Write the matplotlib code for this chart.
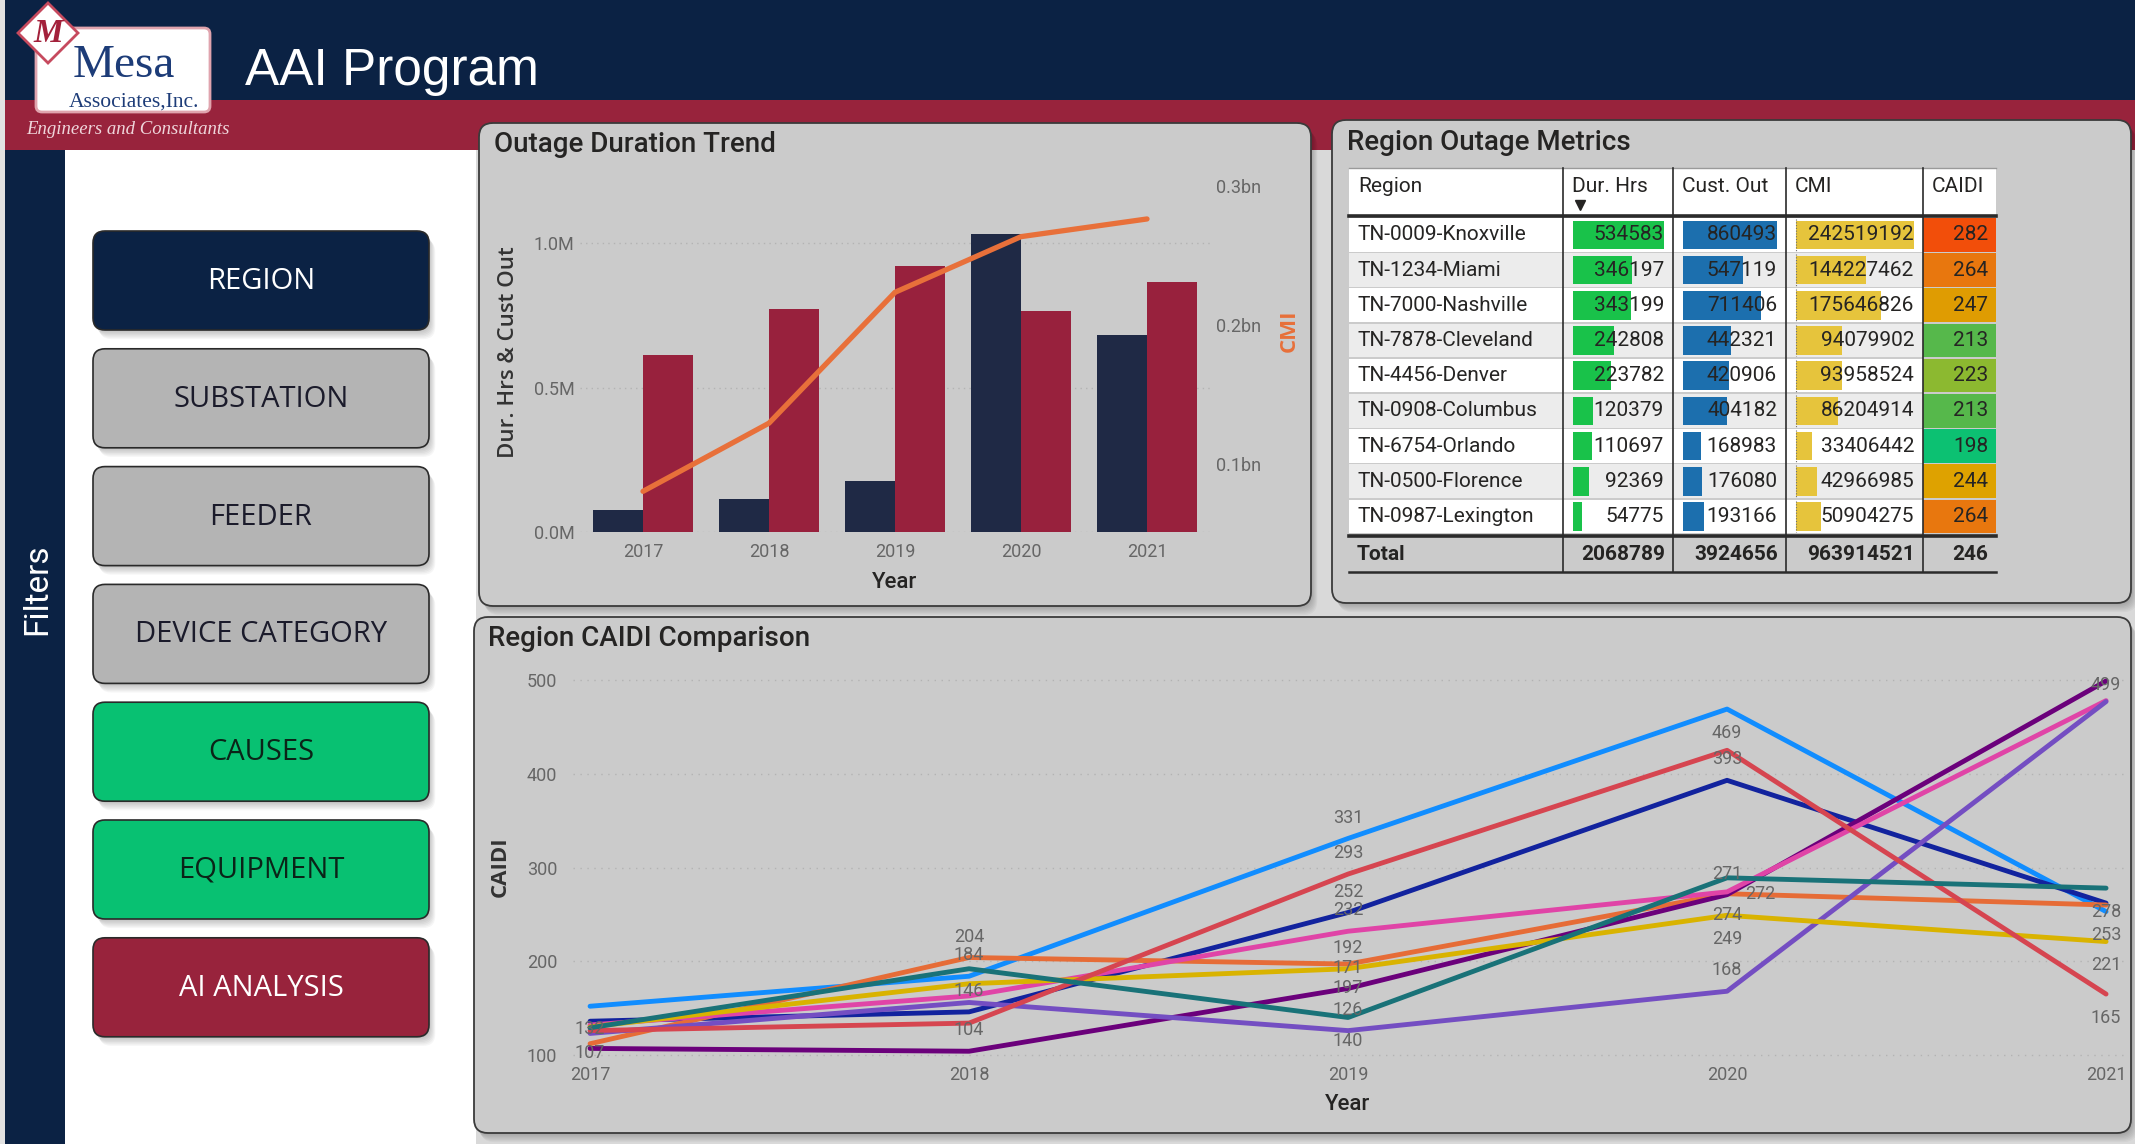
import numpy as np
import matplotlib
matplotlib.use('Agg')
import matplotlib.pyplot as plt
from matplotlib.patches import FancyBboxPatch, Rectangle, Polygon
from matplotlib.colors import LinearSegmentedColormap, Normalize
from matplotlib.ticker import FuncFormatter

# ---- data ----
YEARS = [2017, 2018, 2019, 2020, 2021]
DUR_HRS_BY_YEAR = [75e3, 112e3, 177e3, 1031e3, 682e3]
CUST_OUT_BY_YEAR = [613e3, 771e3, 923e3, 765e3, 865e3]
CMI_BY_YEAR = [80.4e6, 129.4e6, 223.4e6, 263.4e6, 276.1e6]

REGIONS = ['TN-0009-Knoxville', 'TN-1234-Miami', 'TN-7000-Nashville', 'TN-7878-Cleveland',
           'TN-4456-Denver', 'TN-0908-Columbus', 'TN-6754-Orlando', 'TN-0500-Florence',
           'TN-0987-Lexington']
DUR_HRS = [534583, 346197, 343199, 242808, 223782, 120379, 110697, 92369, 54775]
CUST_OUT = [860493, 547119, 711406, 442321, 420906, 404182, 168983, 176080, 193166]
CMI = [242519192, 144227462, 175646826, 94079902, 93958524, 86204914, 33406442, 42966985, 50904275]
CAIDI = [282, 264, 247, 213, 223, 213, 198, 244, 264]
TABLE_HEADERS = ['Region', 'Dur. Hrs', 'Cust. Out', 'CMI', 'CAIDI']
TOTALS = ['Total', '2068789', '3924656', '963914521', '246']

# CAIDI per year, one line per region (legend hidden in the report)
CAIDI_LINES = [
    [152, 184, 331, 469, 253],
    [136, 146, 252, 393, 262],
    [112, 204, 197, 272, 260],
    [107, 104, 171, 271, 499],
    [132, 163, 232, 274, 478],
    [123, 156, 126, 168, 477],
    [130, 176, 192, 249, 221],
    [126, 134, 293, 425, 165],
    [129, 192, 140, 289, 278],
]
# (line, year index, placement) of the data labels that Power BI shows
LINE_LABELS = [
    (4, 0, 'on'), (3, 0, 'on'),
    (2, 1, 'above'), (0, 1, 'above'), (1, 1, 'above'), (3, 1, 'above'),
    (0, 2, 'above'), (7, 2, 'above'), (1, 2, 'above'), (4, 2, 'above'), (6, 2, 'above'),
    (3, 2, 'above'), (2, 2, 'below'), (5, 2, 'above'), (8, 2, 'below'),
    (0, 3, 'below'), (1, 3, 'above'), (3, 3, 'above'), (2, 3, 'right'), (4, 3, 'below'),
    (6, 3, 'below'), (5, 3, 'above'),
    (3, 4, 'on'), (8, 4, 'below'), (0, 4, 'below'), (6, 4, 'below'), (7, 4, 'below'),
]

BUTTONS = ['REGION', 'SUBSTATION', 'FEEDER', 'DEVICE CATEGORY', 'CAUSES', 'EQUIPMENT', 'AI ANALYSIS']

# ---- style ----
NAVY = '#0b2244'
MAROON = '#98233c'
PANEL = '#cbcbcb'
TXT = '#252423'
TICK = '#666666'
LINE_COLORS = ['#118DFF', '#12239E', '#E66C37', '#6B007B', '#E044A7',
               '#744EC2', '#D9B300', '#D64550', '#197278']
BUTTON_STYLE = [(NAVY, 'white'), ('#b4b4b4', '#1b1b2b'), ('#b4b4b4', '#1b1b2b'),
                ('#b4b4b4', '#1b1b2b'), ('#08c172', '#0b2418'), ('#08c172', '#0b2418'),
                (MAROON, 'white')]

plt.rcParams['font.family'] = ['Roboto', 'DejaVu Sans']

W, H = 2135, 1144
fig = plt.figure(figsize=(W / 100, H / 100), dpi=100)
fig.patch.set_facecolor('#d9d9d9')
bg = fig.add_axes([0, 0, 1, 1])
bg.set_xlim(0, W)
bg.set_ylim(H, 0)
bg.axis('off')


def px_rect(x0, y0, x1, y1):
    return [x0 / W, 1 - y1 / H, (x1 - x0) / W, (y1 - y0) / H]


def card(x0, y0, x1, y1, fc, ec='#3a3a3a', lw=1.3, r=14, shadow=True, z=2):
    style = f'round,pad=0,rounding_size={r}'
    if shadow:
        for i in range(1, 8):
            bg.add_patch(FancyBboxPatch((x0 + i * 0.9, y0 + i * 1.3), x1 - x0, y1 - y0,
                                        boxstyle=style, fc='black', ec='none',
                                        alpha=0.035, zorder=z))
    bg.add_patch(FancyBboxPatch((x0, y0), x1 - x0, y1 - y0, boxstyle=style,
                                fc=fc, ec=ec, lw=lw, zorder=z + 0.1))


# ---- page frame ----
bg.add_patch(Rectangle((0, 0), W, H, fc='#e2e2e2', ec='none', zorder=0))
bg.add_patch(Rectangle((5, 0), W, 100, fc=NAVY, ec='none', zorder=1))
bg.add_patch(Rectangle((5, 100), W, 50, fc=MAROON, ec='none', zorder=1))
bg.add_patch(Rectangle((5, 150), 60, H, fc=NAVY, ec='none', zorder=1))
bg.add_patch(Rectangle((65, 150), 411, H, fc='white', ec='none', zorder=1))
bg.add_patch(Rectangle((476, 150), W, H, fc='#d9d9d9', ec='none', zorder=1))
bg.text(37, 589, 'Filters', rotation=90, ha='center', va='center', color='white',
        fontsize=24, zorder=3)

# logo
bg.add_patch(FancyBboxPatch((36, 28), 174, 84, boxstyle='round,pad=0,rounding_size=6',
                            fc='white', ec='#e0a4ae', lw=2, zorder=3))
bg.add_patch(Polygon([(48, 3), (78, 33), (48, 63), (18, 33)], closed=True,
                     fc='white', ec='#c64a5e', lw=2, zorder=4))
bg.text(48, 34, 'M', ha='center', va='center', color='#a3213b', fontsize=24,
        family='Liberation Serif', style='italic', weight='bold', zorder=5)
bg.text(73, 77, 'Mesa', ha='left', va='baseline', color='#1d3c78', fontsize=34,
        family='Liberation Serif', zorder=5)
bg.text(69, 107, 'Associates,Inc.', ha='left', va='baseline', color='#1d3c78', fontsize=15.5,
        family='Liberation Serif', zorder=5)
bg.text(26, 129, 'Engineers and Consultants', ha='left', va='center', color='#efd6db',
        fontsize=13.5, family='Liberation Serif', style='italic', zorder=5)
bg.text(245, 85, 'AAI Program', ha='left', va='baseline', color='white', fontsize=37,
        family='Liberation Sans', zorder=5)

# ---- filter buttons ----
btn_top, btn_h, btn_step = 231, 99, 117.8
for i, (name, (fc, tc)) in enumerate(zip(BUTTONS, BUTTON_STYLE)):
    y0 = btn_top + i * btn_step
    card(93, y0, 429, y0 + btn_h, fc, ec='#2a2a2a', lw=1.2, r=12)
    bg.text(261, y0 + btn_h / 2 + 1, name, ha='center', va='center', color=tc,
            fontsize=21, family='Open Sans', zorder=4)

# ---- panels ----
card(479, 123, 1311, 606, PANEL)
card(1332, 120, 2131, 603, PANEL)
card(474, 617, 2131, 1133, PANEL)
for tx, ty, title in [(494, 145, 'Outage Duration Trend'), (1347, 142, 'Region Outage Metrics'),
                      (488, 639, 'Region CAIDI Comparison')]:
    bg.text(tx, ty, title, ha='left', va='center', color=TXT, fontsize=20, weight='medium', zorder=4)

# ---- outage duration trend ----
ax = fig.add_axes(px_rect(580, 185.7, 1210, 531.7))
ax.patch.set_alpha(0)
x = np.arange(len(YEARS))
ax.bar(x - 0.2, DUR_HRS_BY_YEAR, 0.4, color='#1f2945', zorder=3)
ax.bar(x + 0.2, CUST_OUT_BY_YEAR, 0.4, color='#98213d', zorder=3)
ax.set_xlim(-0.5, 4.5)
ax.set_ylim(0, 1.2e6)
ax.set_xticks(x, [str(y) for y in YEARS])
ax.set_yticks([0, 0.5e6, 1e6])
ax.yaxis.set_major_formatter(FuncFormatter(lambda v, p: f'{v / 1e6:.1f}M'))
ax.grid(axis='y', linestyle=(0, (1, 3)), color='#b3b3b3', lw=1)
ax.set_axisbelow(True)
for s in ax.spines.values():
    s.set_visible(False)
ax.tick_params(length=0, labelsize=13, colors=TICK)
ax.tick_params(axis='x', pad=8)
ax.tick_params(axis='y', pad=4)

ax2 = ax.twinx()
ax2.plot(x, CMI_BY_YEAR, color='#e8703a', lw=3.8, solid_capstyle='round', solid_joinstyle='round')
ax2.set_ylim(0.0514e9, 0.3e9)
ax2.set_yticks([0.1e9, 0.2e9, 0.3e9])
ax2.yaxis.set_major_formatter(FuncFormatter(lambda v, p: f'{v / 1e9:.1f}bn'))
for s in ax2.spines.values():
    s.set_visible(False)
ax2.tick_params(length=0, labelsize=13, colors=TICK, pad=4)

bg.text(895, 583, 'Year', ha='center', va='center', color=TXT, fontsize=16, weight='medium', zorder=4)
bg.text(508, 352, 'Dur. Hrs & Cust Out', rotation=90, ha='center', va='center', color='#333333',
        fontsize=16, family='Open Sans', weight='semibold', zorder=4)
bg.text(1289, 331, 'CMI', rotation=90, ha='center', va='center', color='#e8703a',
        fontsize=16, family='Open Sans', weight='bold', zorder=4)

# ---- region outage metrics table ----
col_x = [1349, 1563, 1673, 1786, 1923, 1996]
head_top, head_bot = 167.7, 215
row0, row_h = 218, 35.2
tot_top = row0 + row_h * len(REGIONS) + 2
tot_bot = tot_top + 35
ZT = 5
bg.add_patch(Rectangle((col_x[0], head_top), col_x[-1] - col_x[0], head_bot - head_top,
                       fc='white', ec='none', zorder=ZT))
bg.plot([col_x[0], col_x[-1]], [head_top, head_top], color='#9a9a9a', lw=1, zorder=ZT + 2)
for j, name in enumerate(TABLE_HEADERS):
    bg.text(col_x[j] + 9, 187, name, ha='left', va='center', color=TXT, fontsize=15, zorder=ZT + 3)
bg.plot(col_x[1] + 17, 205, marker='v', ms=7, color=TXT, zorder=ZT + 3)

caidi_cmap = LinearSegmentedColormap.from_list(
    'caidi', [(0, '#0cc172'), (0.18, '#57b84a'), (0.3, '#8db930'),
              (0.55, '#dea200'), (0.79, '#e8770e'), (1, '#f24e0a')])
caidi_norm = Normalize(min(CAIDI), max(CAIDI))
bar_cols = [(DUR_HRS, '#19c24a'), (CUST_OUT, '#1c6fae'), (CMI, '#e6c43c')]

for i, region in enumerate(REGIONS):
    top = row0 + i * row_h
    fc = 'white' if i % 2 == 0 else '#ececec'
    bg.add_patch(Rectangle((col_x[0], top), col_x[-1] - col_x[0], row_h - 1.6, fc=fc, ec='none', zorder=ZT))
    mid = top + (row_h - 1.6) / 2
    bg.text(col_x[0] + 8, mid, region, ha='left', va='center', color=TXT, fontsize=15, zorder=ZT + 3)
    for j, (vals, color) in enumerate(bar_cols):
        left, right = col_x[j + 1], col_x[j + 2]
        max_w = right - left - 19
        bg.add_patch(Rectangle((left + 10, top + 2.5), max_w * vals[i] / max(vals), row_h - 6.5,
                               fc=color, ec='none', zorder=ZT + 1))
        bg.text(right - 9, mid, f'{vals[i]}', ha='right', va='center', color=TXT,
                fontsize=15, zorder=ZT + 3)
    bg.plot([col_x[3] + 10] * 2, [top + 1, top + row_h - 2.5], color='#6f6f6f', lw=0.8,
            ls=(0, (1, 1.5)), zorder=ZT + 2)
    bg.add_patch(Rectangle((col_x[4], top), col_x[5] - col_x[4], row_h - 1.6,
                           fc=caidi_cmap(caidi_norm(CAIDI[i])), ec='none', zorder=ZT + 1))
    bg.text(col_x[5] - 8, mid, f'{CAIDI[i]}', ha='right', va='center', color=TXT,
            fontsize=15, zorder=ZT + 3)

tmid = (tot_top + tot_bot) / 2
for j, val in enumerate(TOTALS):
    if j == 0:
        bg.text(col_x[0] + 8, tmid, val, ha='left', va='center', color=TXT, fontsize=15,
                weight='bold', zorder=ZT + 3)
    else:
        bg.text(col_x[j + 1] - 8, tmid, val, ha='right', va='center', color=TXT, fontsize=15,
                weight='bold', zorder=ZT + 3)
for y, lw in [(head_bot + 1, 2.6), (tot_top - 1, 2.6), (tot_bot, 1.8)]:
    bg.plot([col_x[0], col_x[-1]], [y, y], color='#2b2b2b', lw=lw, zorder=ZT + 2)
for cx in col_x[1:5]:
    bg.plot([cx, cx], [head_top, tot_bot], color='#2b2b2b', lw=1.2, zorder=ZT + 2)

# ---- region CAIDI comparison ----
lx = fig.add_axes(px_rect(573, 677.2, 2125, 1057.8))
lx.patch.set_alpha(0)
for vals, color in zip(CAIDI_LINES, LINE_COLORS):
    lx.plot(YEARS, vals, color=color, lw=3.5, solid_capstyle='round', solid_joinstyle='round')
lx.set_xlim(2016.955, 2021.05)
lx.set_ylim(97, 503)
lx.set_xticks(YEARS, [str(y) for y in YEARS])
lx.set_yticks([100, 200, 300, 400, 500])
lx.grid(axis='y', linestyle=(0, (1, 4)), color='#b3b3b3', lw=1)
lx.set_axisbelow(True)
for s in lx.spines.values():
    s.set_visible(False)
lx.tick_params(length=0, labelsize=13, colors=TICK)
lx.tick_params(axis='x', pad=6)
lx.tick_params(axis='y', pad=11.5)

offsets = {'above': (0, 15), 'below': (0, -17), 'on': (0, -3), 'right': (24, 0)}
for k, yi, where in LINE_LABELS:
    v = CAIDI_LINES[k][yi]
    lx.annotate(str(v), (YEARS[yi], v), xytext=offsets[where], textcoords='offset points',
                ha='center', va='center', fontsize=13, color=TICK)

bg.text(1348, 1105, 'Year', ha='center', va='center', color=TXT, fontsize=16, weight='medium', zorder=4)
bg.text(500, 867, 'CAIDI', rotation=90, ha='center', va='center', color='#333333',
        fontsize=16, family='Open Sans', weight='bold', zorder=4)

fig.savefig('out.png', dpi=100, facecolor=fig.get_facecolor())
